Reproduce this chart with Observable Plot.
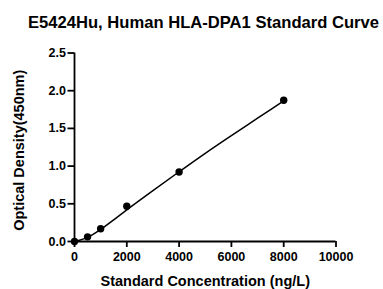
<!DOCTYPE html>
<html>
<head>
<meta charset="utf-8">
<script src="https://cdn.jsdelivr.net/npm/d3@7"></script>
<script src="https://cdn.jsdelivr.net/npm/@observablehq/plot@0.6"></script>
<style>
  html, body { margin: 0; padding: 0; background: #fff; }
  #wrap { position: relative; width: 383px; height: 289px; font-family: Arial, "Liberation Sans", sans-serif; }
  #title { position: absolute; left: 0; top: 0; width: 383px; height: 40px; z-index: 2; }
  #title span { position: absolute; left: 28px; top: 13px; font-weight: bold; font-size: 16.6px; color: #000; white-space: nowrap; line-height: normal; }
  #chart { position: absolute; left: 0; top: 0; }
  #chart svg { overflow: visible; }
</style>
</head>
<body>
<div id="wrap">
  <div id="title"><span>E5424Hu, Human HLA-DPA1 Standard Curve</span></div>
  <div id="chart"></div>
</div>
<script>
// Standard points
const concentration = [0, 500, 1000, 2000, 4000, 8000];
const opticalDensity = [0.0, 0.062, 0.170, 0.467, 0.922, 1.873];

// Fitted curve
const fitConcentration = [0, 500, 1000, 1500, 2000, 3000, 4000, 5000, 6000, 7000, 8000];
const fitOD = [0.0, 0.055, 0.160, 0.288, 0.420, 0.675, 0.925, 1.170, 1.405, 1.635, 1.865];

const xTicks = [0, 2000, 4000, 6000, 8000, 10000];
const yTicks = [0, 0.5, 1.0, 1.5, 2.0, 2.5];

const xLabel = "Standard Concentration (ng/L)";
const yLabel = "Optical Density(450nm)";

const points = concentration.map((c, i) => ({c, od: opticalDensity[i]}));
const fit = fitConcentration.map((c, i) => ({c, od: fitOD[i]}));

const chart = Plot.plot({
  width: 383,
  height: 289,
  marginTop: 52.5,
  marginBottom: 48,
  marginLeft: 74,
  marginRight: 47.5,
  style: {fontFamily: 'Arial, "Liberation Sans", sans-serif', fontWeight: "bold", fontSize: "12.5px", color: "#000", background: "transparent"},
  x: {domain: [0, 10000], ticks: xTicks, tickFormat: d => String(d), label: null},
  y: {domain: [0, 2.5], ticks: yTicks, tickFormat: d => d.toFixed(1), label: null},
  marks: [
    Plot.axisX({ticks: xTicks, tickFormat: d => String(d), tickSize: 6, tickPadding: 5, strokeWidth: 1.8, fontWeight: "bold", fontSize: 12.5, label: null}),
    Plot.axisY({ticks: yTicks, tickFormat: d => d.toFixed(1), tickSize: 6.5, tickPadding: 2, strokeWidth: 1.8, fontWeight: "bold", fontSize: 12.5, label: null}),
    Plot.ruleY([0], {x1: 0, x2: 10000, stroke: "#000", strokeWidth: 1.8}),
    Plot.ruleX([0], {y1: 0, y2: 2.5, stroke: "#000", strokeWidth: 1.8}),
    Plot.line(fit, {x: "c", y: "od", curve: "monotone-x", stroke: "#000", strokeWidth: 1.5}),
    Plot.dot(points, {x: "c", y: "od", r: 3.7, fill: "#000", stroke: "none"}),
    Plot.text([xLabel], {frameAnchor: "bottom", text: d => d, dy: 40, fontSize: 14.5, fontWeight: "bold", fill: "#000", lineAnchor: "middle", textAnchor: "middle"}),
    Plot.text([yLabel], {frameAnchor: "left", text: d => d, dx: -55, dy: 3, rotate: -90, fontSize: 14.5, fontWeight: "bold", fill: "#000", lineAnchor: "middle", textAnchor: "middle"})
  ]
});
document.getElementById("chart").appendChild(chart);
</script>
</body>
</html>
